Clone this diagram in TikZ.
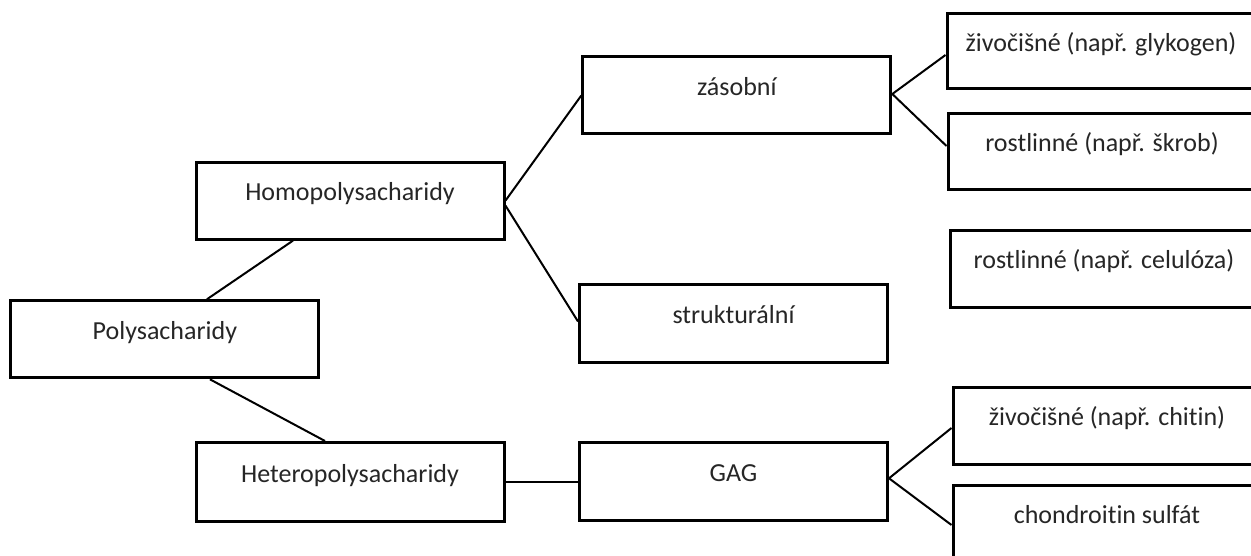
\documentclass[tikz,border=0pt]{standalone}
\usepackage{fontspec}
\setmainfont{Carlito}[Ligatures={NoCommon}]
\begin{document}
\begin{tikzpicture}[x=1pt,y=-1pt,
  box/.style={draw=black, line width=3pt, minimum width=308pt, minimum height=77pt,
    inner sep=0pt, text height=18pt, text depth=18pt, text=black!85,
    font=\fontsize{26}{30}\selectfont},
  conn/.style={draw=black, line width=2pt}]
\useasboundingbox (0,0) rectangle (1251,556);
\clip (0,0) rectangle (1251,556);
\fill[white] (0,0) rectangle (1251,556);
% left column
\node[box] (poly)   at (164.9,339.3) {Polysacharidy};
\node[box] (homo)   at (350,200.6)   {Homopolysacharidy};
\node[box, minimum height=79pt] (hetero) at (350,482) {Heteropolysacharidy};
% middle column
\node[box] (zas)    at (736.8,95.5)  {zásobní};
\node[box] (struk)  at (733.5,323.5) {strukturální};
\node[box, minimum height=78pt] (gag) at (733.5,481.3) {GAG};
% right column
\node[box, minimum height=75pt] (glyk)   at (1101,51.5)  {živočišné (např. glykogen)};
\node[box, minimum height=76pt] (skrob)  at (1102,152)   {rostlinné (např. škrob)};
\node[box, minimum height=76pt] (celul)  at (1104,269)   {rostlinné (např. celulóza)};
\node[box] (chitin) at (1107,425.5) {živočišné (např. chitin)};
\node[box] (chondr) at (1107,523.5) {chondroitin sulfát};
% connectors
\draw[conn] ([xshift=42pt]poly.north) -- ([xshift=-57pt]homo.south);
\draw[conn] ([xshift=45pt]poly.south) -- ([xshift=-25pt]hetero.north);
\draw[conn] (homo.east) -- (zas.west);
\draw[conn] ([yshift=-5pt]homo.east) -- ([yshift=2pt]struk.west);
\draw[conn] (hetero.east) -- (hetero.east -| gag.west);
\draw[conn] ([yshift=1.5pt]zas.east) -- ([yshift=-3.5pt]glyk.west);
\draw[conn] ([yshift=1.5pt]zas.east) -- ([yshift=6pt]skrob.west);
\draw[conn] ([yshift=3pt]gag.east) -- ([yshift=-2.5pt]chitin.west);
\draw[conn] ([yshift=3pt]gag.east) -- ([yshift=-1.5pt]chondr.west);
\end{tikzpicture}
\end{document}
